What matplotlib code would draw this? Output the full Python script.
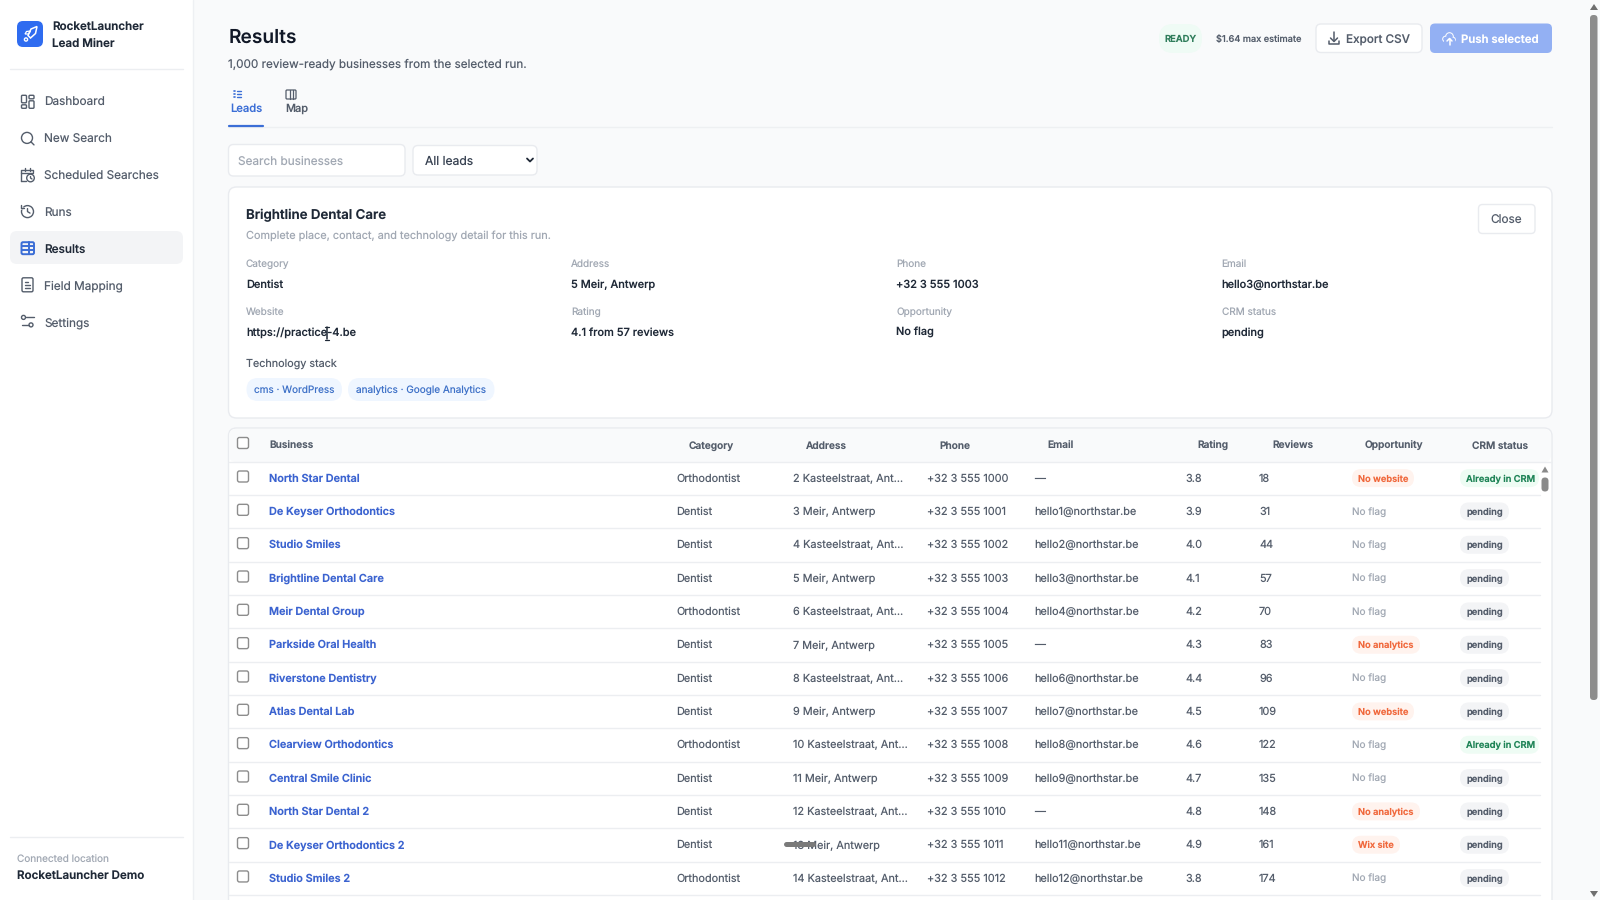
"""Results screen of the lead miner app, drawn in pixel coordinates."""

import matplotlib

matplotlib.use('Agg')
import matplotlib.pyplot as plt
from matplotlib.patches import Circle, FancyBboxPatch, Polygon

plt.rcParams['font.family'] = ['Inter', 'DejaVu Sans']
plt.rcParams['text.hinting'] = 'no_hinting'
plt.rcParams['text.hinting_factor'] = 1

nav_items = ['Dashboard', 'New Search', 'Scheduled Searches', 'Runs', 'Results',
             'Field Mapping', 'Settings']
active_nav = 'Results'

columns = ['Business', 'Category', 'Address', 'Phone', 'Email', 'Rating', 'Reviews',
           'Opportunity', 'CRM status']
businesses = ['North Star Dental', 'De Keyser Orthodontics', 'Studio Smiles',
              'Brightline Dental Care', 'Meir Dental Group', 'Parkside Oral Health',
              'Riverstone Dentistry', 'Atlas Dental Lab', 'Clearview Orthodontics',
              'Central Smile Clinic', 'North Star Dental 2', 'De Keyser Orthodontics 2',
              'Studio Smiles 2']
categories = ['Orthodontist', 'Dentist', 'Dentist', 'Dentist', 'Orthodontist', 'Dentist',
              'Dentist', 'Dentist', 'Orthodontist', 'Dentist', 'Dentist', 'Dentist',
              'Orthodontist']
addresses = ['2 Kasteelstraat, Ant...', '3 Meir, Antwerp', '4 Kasteelstraat, Ant...',
             '5 Meir, Antwerp', '6 Kasteelstraat, Ant...', '7 Meir, Antwerp',
             '8 Kasteelstraat, Ant...', '9 Meir, Antwerp', '10 Kasteelstraat, Ant...',
             '11 Meir, Antwerp', '12 Kasteelstraat, Ant...', '13 Meir, Antwerp',
             '14 Kasteelstraat, Ant...']
phones = ['+32 3 555 1000', '+32 3 555 1001', '+32 3 555 1002', '+32 3 555 1003',
          '+32 3 555 1004', '+32 3 555 1005', '+32 3 555 1006', '+32 3 555 1007',
          '+32 3 555 1008', '+32 3 555 1009', '+32 3 555 1010', '+32 3 555 1011',
          '+32 3 555 1012']
emails = ['—', 'hello1@northstar.be', 'hello2@northstar.be', 'hello3@northstar.be',
          'hello4@northstar.be', '—', 'hello6@northstar.be', 'hello7@northstar.be',
          'hello8@northstar.be', 'hello9@northstar.be', '—', 'hello11@northstar.be',
          'hello12@northstar.be']
ratings = ['3.8', '3.9', '4.0', '4.1', '4.2', '4.3', '4.4', '4.5', '4.6', '4.7', '4.8',
           '4.9', '3.8']
reviews = ['18', '31', '44', '57', '70', '83', '96', '109', '122', '135', '148', '161',
           '174']
opportunities = ['No website', 'No flag', 'No flag', 'No flag', 'No flag', 'No analytics',
                 'No flag', 'No website', 'No flag', 'No flag', 'No analytics', 'Wix site',
                 'No flag']
crm_status = ['Already in CRM', 'pending', 'pending', 'pending', 'pending', 'pending',
              'pending', 'pending', 'Already in CRM', 'pending', 'pending', 'pending',
              'pending']

detail_labels = ['Category', 'Address', 'Phone', 'Email',
                 'Website', 'Rating', 'Opportunity', 'CRM status']
detail_values = ['Dentist', '5 Meir, Antwerp', '+32 3 555 1003', 'hello3@northstar.be',
                 'https://practice-4.be', '4.1 from 57 reviews', 'No flag', 'pending']

INK = '#1f2937'
BODY = '#545d6b'
MUTED = '#a1a8b3'
BLUE = '#3b6ed6'
LINE = '#e9ebef'
PUSH = '#93b0f3'

fig = plt.figure(figsize=(16, 9), dpi=100, facecolor='#f9fafb')
ax = fig.add_axes([0, 0, 1, 1])
ax.set_xlim(0, 1600)
ax.set_ylim(900, 0)
ax.axis('off')


def box(x0, y0, x1, y1, r=0, fc='white', ec='none', lw=1.0, z=1):
    ax.add_patch(FancyBboxPatch((x0, y0), x1 - x0, y1 - y0,
                                boxstyle=f'round,pad=0,rounding_size={r}',
                                fc=fc, ec=ec, lw=lw, zorder=z))


def txt(x, y, s, px=13, color=BODY, weight='normal', ha='left', z=5):
    ax.text(x, y, s, fontsize=px * 0.72, color=color, fontweight=weight, ha=ha,
            va='center_baseline', zorder=z)


def stroke(xs, ys, color=BODY, lw=1.0, z=4):
    ax.plot(xs, ys, color=color, lw=lw, solid_capstyle='round', zorder=z)


def ring(x, y, r, color=BODY, lw=1.0, fc='none', z=4):
    ax.add_patch(Circle((x, y), r, fc=fc, ec=color, lw=lw, zorder=z))


def nav_icon(name, x, y):
    color = BLUE if name == active_nav else BODY
    if name == 'Dashboard':
        box(x - 6, y - 6.5, x - 1, y + 1, 1, 'none', color, 1, 4)
        box(x + 1.5, y - 6.5, x + 6.5, y - 3, 1, 'none', color, 1, 4)
        box(x - 6, y + 3, x - 1, y + 6.5, 1, 'none', color, 1, 4)
        box(x + 1.5, y - 1, x + 6.5, y + 6.5, 1, 'none', color, 1, 4)
    elif name == 'New Search':
        ring(x - 0.5, y - 0.5, 5.5, color)
        stroke([x + 3.5, x + 6.5], [y + 3.5, y + 6.5], color)
    elif name == 'Scheduled Searches':
        stroke([x - 6.5, x - 6.5, x + 5, x + 5], [y + 6, y - 5, y - 5, y - 3], color)
        stroke([x - 6.5, x - 2], [y + 6, y + 6], color)
        stroke([x - 6.5, x + 5], [y - 2, y - 2], color)
        stroke([x - 3, x - 3], [y - 7, y - 4], color)
        stroke([x + 2, x + 2], [y - 7, y - 4], color)
        ring(x + 3, y + 3, 3.8, color, fc='white')
        stroke([x + 3, x + 3, x + 4.5], [y + 1.5, y + 3, y + 4], color)
    elif name == 'Runs':
        ring(x, y, 6, color)
        stroke([x, x, x + 2.5], [y - 3, y, y + 1.5], color)
        box(x - 7.5, y - 5, x - 4, y - 2, 0, 'white', 'none', z=4)
        stroke([x - 6.5, x - 6.5, x - 3.5], [y - 7, y - 3.5, y - 3.5], color)
    elif name == 'Results':
        box(x - 6, y - 6, x + 6.5, y + 6, 1.5, 'none', color, 1.4, 4)
        stroke([x - 6, x + 6.5], [y - 2, y - 2], color, 1.4)
        stroke([x - 6, x + 6.5], [y + 2, y + 2], color, 1.4)
        stroke([x + 1, x + 1], [y - 6, y + 6], color, 1.4)
    elif name == 'Field Mapping':
        box(x - 5.5, y - 7, x + 5.5, y + 7, 1.5, 'none', color, 1, 4)
        stroke([x - 2.5, x + 2.5], [y, y], color)
        stroke([x - 2.5, x + 2.5], [y + 3, y + 3], color)
        stroke([x - 2.5, x], [y - 3, y - 3], color)
    elif name == 'Settings':
        ring(x - 4, y - 4, 2, color)
        stroke([x - 1.5, x + 6], [y - 4, y - 4], color)
        ring(x + 3.5, y + 3.5, 2, color)
        stroke([x - 6, x + 1], [y + 3.5, y + 3.5], color)


def pill(x0, y, width, label, fc, color):
    box(x0, y - 9, x0 + width, y + 9, 9, fc, 'none', z=3)
    txt(x0 + 6.5, y, label, 9.3, color, 'semibold')


# sidebar
box(0, 0, 193, 900, 0, 'white', 'none', z=1)
stroke([193, 193], [0, 900], '#eef0f3', 1)
box(17, 21, 43, 47, 6, '#2f6cf0', 'none', z=3)
ax.add_patch(Polygon([(37, 26.5), (35.5, 33.5), (30.5, 38), (28, 35.5), (31, 29)],
                     fc='none', ec='white', lw=1.1, zorder=4))
ax.add_patch(Polygon([(30.5, 31), (26.5, 31.5), (25, 34), (28.5, 34)],
                     fc='none', ec='white', lw=0.9, zorder=4))
ring(26, 39.5, 1.6, 'white', 1.0)
txt(52, 26, 'RocketLauncher', 11.6, INK, 'semibold')
txt(52, 43, 'Lead Miner', 11.6, INK, 'semibold')
stroke([10, 183], [68.5, 68.5], '#eceef1', 1)
box(10, 231, 183, 264, 7, '#f3f4f6', 'none', z=2)
for i, name in enumerate(nav_items):
    ny = 101.8 + 36.6 * i
    on = name == active_nav
    txt(44, ny, name, 11.8, INK if on else BODY, 'medium' if on else 'normal')
    nav_icon(name, 27.5, ny)
stroke([10, 183], [837, 837], '#eceef1', 1)
txt(17, 858, 'Connected location', 10, MUTED)
txt(17, 875, 'RocketLauncher Demo', 11.6, INK, 'semibold')

# page header
txt(228.5, 36, 'Results', 19.2, '#111827', 'semibold')
txt(228.5, 63, '1,000 review-ready businesses from the selected run.', 11.7, BODY)
box(1159, 24, 1202, 53, 14, '#effbf5', 'none', z=3)
txt(1180.5, 38.5, 'READY', 9.4, '#2f7d5b', 'semibold', ha='center')
txt(1215.5, 38.5, '$1.64 max estimate', 9.2, BODY, 'medium')
box(1316, 24, 1422, 52.5, 5, 'white', LINE)
txt(1346, 39, 'Export CSV', 11.7, BODY, 'medium')
stroke([1334, 1334], [32, 41], BODY, 1.1)
stroke([1330.5, 1334, 1337.5], [38, 41.5, 38], BODY, 1.1)
stroke([1329, 1329, 1339, 1339], [41, 44, 44, 41], BODY, 1.1)
box(1430, 23.5, 1552, 53, 5, PUSH, 'none')
txt(1461, 39, 'Push selected', 11.4, 'white', 'semibold')
for cx, cy, cr in [(1445.5, 39, 2.8), (1449.5, 36.5, 3.8), (1453, 39.5, 2.3)]:
    ring(cx, cy, cr + 0.5, 'none', 0, fc='white', z=3)
for cx, cy, cr in [(1445.5, 39, 2.8), (1449.5, 36.5, 3.8), (1453, 39.5, 2.3)]:
    ring(cx, cy, cr - 0.5, 'none', 0, fc=PUSH, z=3.5)
box(1444, 39, 1455, 43, 0, PUSH, 'none', z=3.5)
stroke([1449.5, 1449.5], [38.5, 45], 'white', 1.1)
stroke([1447, 1449.5, 1452], [41, 38.5, 41], 'white', 1.1)

# tabs
for k in range(3):
    stroke([234, 234.5], [91 + 3 * k, 91 + 3 * k], BLUE, 1.2)
    stroke([236.5, 241], [91 + 3 * k, 91 + 3 * k], BLUE, 1.0)
txt(230.5, 108, 'Leads', 11.2, BLUE, 'medium')
box(286, 90, 296, 99, 1, 'none', BODY, 0.9, 4)
stroke([289.5, 289.5], [90, 99], BODY, 0.9)
stroke([292.8, 292.8], [90, 99], BODY, 0.9)
txt(285, 108, 'Map', 11, BODY, 'medium')
stroke([228, 1552], [127, 127], '#eef0f2', 1)
stroke([229, 263], [125.7, 125.7], BLUE, 1.6)

# filters
box(228.5, 144.5, 405, 176, 5, 'white', LINE)
txt(238, 160.5, 'Search businesses', 11.8, MUTED)
box(413, 145.5, 537, 175, 5, 'white', LINE)
txt(425, 160.5, 'All leads', 12.1, '#374151')
stroke([527, 530, 533], [158.5, 161.5, 158.5], INK, 1.3)

# detail card
box(228.5, 187, 1552, 418, 8, 'white', LINE)
txt(246, 214, 'Brightline Dental Care', 13.3, INK, 'semibold')
txt(246, 234, 'Complete place, contact, and technology detail for this run.', 10.9, MUTED)
box(1478.5, 204.5, 1535, 233.5, 4, 'white', LINE)
txt(1506.5, 219, 'Close', 11.8, BODY, ha='center')
detail_x = [246, 571, 896.5, 1221.5]
for i, (label, value) in enumerate(zip(detail_labels, detail_values)):
    col, row = i % 4, i // 4
    txt(detail_x[col], 263 + 48 * row, label, 10, MUTED)
    txt(detail_x[col], 283.5 + 48 * row, value, 11, INK, 'medium')
stroke([327, 327], [327, 339], INK, 1.1, z=6)
stroke([325, 329], [326.5, 326.5], INK, 0.9, z=6)
stroke([325, 329], [339.5, 339.5], INK, 0.9, z=6)
txt(246, 363, 'Technology stack', 10.8, BODY)
box(246.5, 378, 342, 401, 11.5, '#eff6ff', 'none', z=3)
txt(254.5, 389, 'cms · WordPress', 10, '#3f72c8')
box(348, 378, 494.5, 401, 11.5, '#eff6ff', 'none', z=3)
txt(356, 389, 'analytics · Google Analytics', 10, '#3f72c8')

# table
box(228.5, 428, 1552, 960, 8, 'white', LINE)
box(229, 429, 1551, 462, 7, '#f9fafb', 'none', z=2)
stroke([229, 1551], [462, 462], '#eceef1', 1)
header_pos = [269, 711, 826.5, 954.5, 1061, 1213, 1292.5, 1393.5, 1500]
for k, (name, hx) in enumerate(zip(columns, header_pos)):
    txt(hx, 445, name, 10.1, BODY, 'semibold', ha='left' if k == 0 else 'center')
box(237.5, 437.5, 248.5, 448.5, 2, 'white', '#8d8d8d', 1.0, 3)

col_x = [269, 676, 793, 927, 1034.5, 1185, 1259, 1352, 1460]
for i, business in enumerate(businesses):
    ry = 477.6 + 33.33 * i
    box(237.5, ry - 6.6, 248.5, ry + 4.4, 2, 'white', '#8d8d8d', 1.0, 3)
    txt(col_x[0], ry, business, 10.9, '#3b63d0', 'semibold')
    txt(col_x[1], ry, categories[i], 10.9, BODY)
    txt(col_x[2], ry, addresses[i], 10.9, BODY)
    txt(col_x[3], ry, phones[i], 10.9, BODY)
    txt(col_x[4], ry, emails[i], 10.9, BODY)
    txt(col_x[5], ry, ratings[i], 10.9, BODY)
    txt(col_x[6], ry, reviews[i], 10.9, BODY)
    if opportunities[i] == 'No flag':
        txt(col_x[7], ry + 0.5, opportunities[i], 10, MUTED)
    else:
        width = {'No website': 62, 'No analytics': 68, 'Wix site': 48}[opportunities[i]]
        pill(col_x[7], ry + 0.5, width, opportunities[i], '#fff3ee', '#f0683c')
    if crm_status[i] == 'pending':
        pill(col_x[8], ry + 0.5, 49, crm_status[i], '#f3f4f6', BODY)
    else:
        pill(col_x[8], ry + 0.5, 79, crm_status[i], '#eefcf4', '#1f8457')
    stroke([229, 1540], [ry + 17.4, ry + 17.4], '#eceef1', 1)

# smudge over the address of row 12
stroke([786, 813], [844, 844], '#7a7a7a', 3.6, z=6)

# inner scroll bar
ax.add_patch(Polygon([(1541.5, 472.5), (1548.5, 472.5), (1545, 466.5)], fc='#8a8a8a',
                     ec='none', zorder=6))
box(1541.5, 477.5, 1548.5, 491.5, 3.5, '#8a8a8a', 'none', z=6)

# page scroll bar
ax.add_patch(Polygon([(1590, 10), (1598, 10), (1594, 4)], fc='#6f6f6f', ec='none', zorder=6))
box(1590, 15, 1597.5, 700, 3.5, '#8c8c8c', 'none', z=6)
ax.add_patch(Polygon([(1590, 891), (1598, 891), (1594, 897)], fc='#6f6f6f', ec='none', zorder=6))

fig.savefig('out.png', dpi=100, facecolor=fig.get_facecolor())
